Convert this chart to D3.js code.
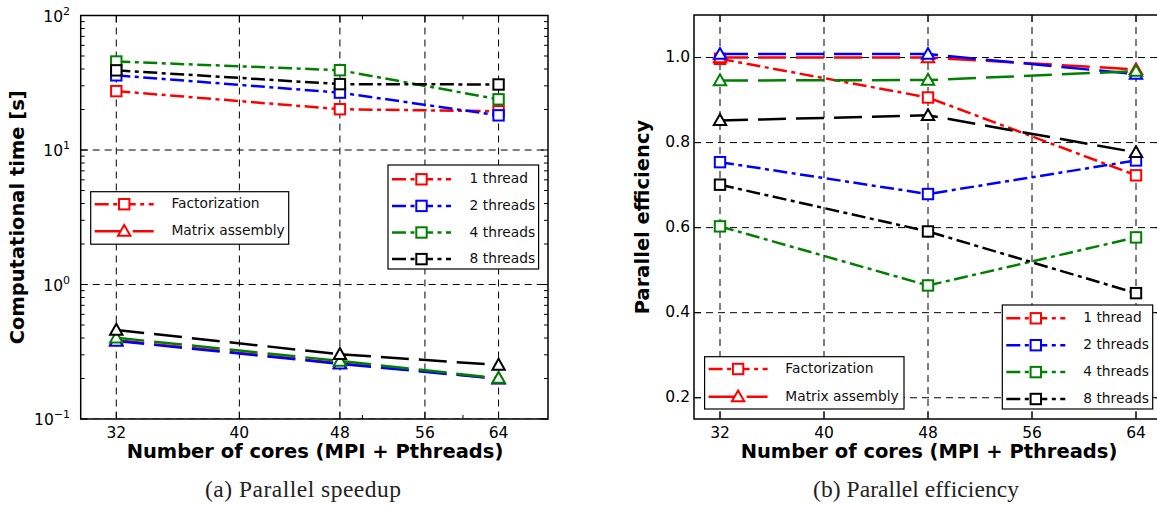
<!DOCTYPE html>
<html>
<head>
  <meta charset="utf-8">
  <title>Parallel speedup / efficiency</title>
  <style>
    body { margin: 0; background: #fff; }
    svg { display: block; }
    .grid { stroke: #000; stroke-width: 1; stroke-dasharray: 7,5; fill: none; }
    .tick { stroke: #000; stroke-width: 1; }
    .frame { fill: none; stroke: #000; stroke-width: 1.5; }
    .ticklabel { font-family: "DejaVu Sans", sans-serif; font-size: 15.5px; fill: #000; }
    .axtitle { font-family: "DejaVu Sans", sans-serif; font-size: 19.5px; font-weight: bold; fill: #000; }
    .legtext { font-family: "DejaVu Sans", sans-serif; font-size: 13.8px; fill: #111; }
    .caption { font-family: "Liberation Serif", serif; font-size: 23.5px; fill: #222; }
    .legbox { fill: #fff; stroke: #000; stroke-width: 1.2; }
  </style>
</head>
<body>
  <svg id="chart"></svg>

  <script src="https://d3js.org/d3.v7.min.js"></script>
  <script>
    // data
    const cores = [32, 48, 64];
    const threadLabels = ["1 thread", "2 threads", "4 threads", "8 threads"];
    const kindLabels = ["Factorization", "Matrix assembly"];
    const xTickValues = [32, 40, 48, 56, 64];

    // (a) computational time [s]
    const timeFactorization = [
      [27.4, 20.1, 19.4],
      [35.9, 26.7, 18.1],
      [45.5, 39.2, 23.8],
      [39.1, 30.9, 30.7]
    ];
    const timeAssembly = [
      [0.385, 0.260, 0.200],
      [0.380, 0.257, 0.199],
      [0.402, 0.270, 0.201],
      [0.459, 0.303, 0.252]
    ];
    const timeTickExponents = [-1, 0, 1, 2];

    // (b) parallel efficiency
    const effFactorization = [
      [0.997, 0.906, 0.723],
      [0.754, 0.679, 0.758],
      [0.603, 0.464, 0.577],
      [0.701, 0.591, 0.446]
    ];
    const effAssembly = [
      [1.000, 1.000, 0.972],
      [1.008, 1.008, 0.961],
      [0.946, 0.947, 0.968],
      [0.852, 0.864, 0.777]
    ];
    const effTicks = [0.2, 0.4, 0.6, 0.8, 1.0];

    const colors = ["#ff0000", "#0000ff", "#008000", "#000000"];
    const dashDot = "14,4.5,4,4.5";
    const dashed = "28,10";

    const svg = d3.select("#chart").attr("width", 1157).attr("height", 505);
    svg.append("rect").attr("width", 1157).attr("height", 505).attr("fill", "#fff");

    function marker(g, kind, cx, cy, color) {
      if (kind === 0) {
        g.append("rect")
          .attr("x", cx - 5.2).attr("y", cy - 5.2)
          .attr("width", 10.4).attr("height", 10.4)
          .attr("fill", "#fff").attr("stroke", color).attr("stroke-width", 2);
      } else {
        const s = 6.2;
        g.append("path")
          .attr("d", `M${cx},${cy - s} L${cx + s},${cy + s * 0.75} L${cx - s},${cy + s * 0.75} Z`)
          .attr("fill", "#fff").attr("stroke", color).attr("stroke-width", 2)
          .attr("stroke-linejoin", "miter");
      }
    }

    function drawPanel(o) {
      const g = svg.append("g");
      const x = o.x, y = o.y;
      const [xl, xr] = x.range();
      const [yb, yt] = y.range();

      const clipId = "clip" + o.id;
      svg.append("clipPath").attr("id", clipId)
        .append("rect").attr("x", xl).attr("y", yt).attr("width", xr - xl).attr("height", yb - yt);
      const inner = g.append("g").attr("clip-path", `url(#${clipId})`);

      // grid
      xTickValues.forEach(v => {
        inner.append("line").attr("class", "grid")
          .attr("x1", x(v)).attr("x2", x(v)).attr("y1", yt).attr("y2", yb);
      });
      o.yTicks.forEach(v => {
        inner.append("line").attr("class", "grid")
          .attr("x1", xl).attr("x2", xr).attr("y1", y(v)).attr("y2", y(v));
      });

      // series: factorization (dash-dot, squares) then assembly (dashed, triangles)
      const line = d3.line().x((d, i) => x(cores[i])).y(d => y(d));
      [o.fact, o.asm].forEach((set, k) => {
        set.forEach((vals, i) => {
          inner.append("path")
            .attr("d", line(vals))
            .attr("fill", "none")
            .attr("stroke", colors[i])
            .attr("stroke-width", 2.5)
            .attr("stroke-dasharray", k === 0 ? dashDot : dashed);
          vals.forEach((v, j) => marker(inner, k, x(cores[j]), y(v), colors[i]));
        });
      });

      // ticks, pointing inward on all sides
      const maj = 7, mnr = 4;
      xTickValues.forEach(v => {
        g.append("line").attr("class", "tick").attr("x1", x(v)).attr("x2", x(v)).attr("y1", yb).attr("y2", yb - maj);
        g.append("line").attr("class", "tick").attr("x1", x(v)).attr("x2", x(v)).attr("y1", yt).attr("y2", yt + maj);
        g.append("text").attr("class", "ticklabel")
          .attr("x", x(v)).attr("y", 438).attr("text-anchor", "middle").text(v);
      });
      (o.xMinor || []).forEach(v => {
        g.append("line").attr("class", "tick").attr("x1", x(v)).attr("x2", x(v)).attr("y1", yb).attr("y2", yb - mnr);
        g.append("line").attr("class", "tick").attr("x1", x(v)).attr("x2", x(v)).attr("y1", yt).attr("y2", yt + mnr);
      });
      o.yTicks.forEach(v => {
        g.append("line").attr("class", "tick").attr("x1", xl).attr("x2", xl + maj).attr("y1", y(v)).attr("y2", y(v));
        g.append("line").attr("class", "tick").attr("x1", xr).attr("x2", xr - maj).attr("y1", y(v)).attr("y2", y(v));
      });
      (o.yMinor || []).forEach(v => {
        g.append("line").attr("class", "tick").attr("x1", xl).attr("x2", xl + mnr).attr("y1", y(v)).attr("y2", y(v));
        g.append("line").attr("class", "tick").attr("x1", xr).attr("x2", xr - mnr).attr("y1", y(v)).attr("y2", y(v));
      });
      o.yLabel(g);

      g.append("rect").attr("class", "frame")
        .attr("x", xl).attr("y", yt).attr("width", xr - xl).attr("height", yb - yt);

      // axis titles
      g.append("text").attr("class", "axtitle")
        .attr("x", o.xTitleX).attr("y", 458).attr("text-anchor", "middle")
        .text("Number of cores (MPI + Pthreads)");
      g.append("text").attr("class", "axtitle")
        .attr("transform", `translate(${o.yTitleX},${(yt + yb) / 2}) rotate(-90)`)
        .attr("text-anchor", "middle").attr("dominant-baseline", "middle")
        .text(o.yTitle);

      // legends
      function legend(box, labels, rowStyle) {
        const lg = g.append("g");
        lg.append("rect").attr("class", "legbox")
          .attr("x", box.x).attr("y", box.y).attr("width", box.w).attr("height", box.h);
        labels.forEach((lab, i) => {
          const ry = box.y + box.first + i * box.step;
          const st = rowStyle(i);
          lg.append("line")
            .attr("x1", box.x + 4).attr("x2", box.x + 63).attr("y1", ry).attr("y2", ry)
            .attr("stroke", st.color).attr("stroke-width", 2.5).attr("stroke-dasharray", st.dash);
          marker(lg, st.kind, box.x + 33.5, ry, st.color);
          lg.append("text").attr("class", "legtext")
            .attr("x", box.x + box.tx).attr("y", ry).attr("dominant-baseline", "middle")
            .text(lab);
        });
      }
      legend(o.kindBox, kindLabels, i => ({ color: colors[0], dash: i === 0 ? dashDot : dashed, kind: i }));
      legend(o.threadBox, threadLabels, i => ({ color: colors[i], dash: dashDot, kind: 0 }));

      svg.append("text").attr("class", "caption")
        .attr("x", o.captionX).attr("y", 497).attr("text-anchor", "middle")
        .attr("textLength", o.captionW).attr("lengthAdjust", "spacing")
        .text(o.caption);
    }

    // (a) log-log
    const xa = d3.scaleLog().domain([30, 70]).range([80.7, 548]);
    const ya = d3.scaleLog().domain([0.1, 100]).range([419, 15.5]);
    const timeTicks = timeTickExponents.map(e => Math.pow(10, e));
    const timeMinor = [];
    timeTickExponents.slice(0, -1).forEach(e => {
      for (let m = 2; m <= 9; m++) timeMinor.push(m * Math.pow(10, e));
    });

    drawPanel({
      id: "a", x: xa, y: ya,
      fact: timeFactorization, asm: timeAssembly,
      yTicks: timeTicks, yMinor: timeMinor, xMinor: [50, 60],
      yLabel: g => {
        timeTickExponents.forEach(e => {
          const t = g.append("text").attr("class", "ticklabel")
            .attr("x", 70).attr("y", ya(Math.pow(10, e)) + 6).attr("text-anchor", "end");
          t.append("tspan").text("10");
          t.append("tspan").attr("dy", -7).attr("font-size", "11px").text(String(e).replace("-", "\u2212"));
        });
      },
      yTitle: "Computational time [s]", yTitleX: 18, xTitleX: 315,
      kindBox: { x: 90.7, y: 191.7, w: 198, h: 52.5, first: 12.5, step: 27, tx: 80.7 },
      threadBox: { x: 388, y: 165, w: 150.6, h: 104, first: 14.3, step: 26.6, tx: 81.6 },
      caption: "(a) Parallel speedup", captionX: 303, captionW: 196
    });

    // (b) linear
    const xb = d3.scaleLinear().domain([30, 66]).range([694, 1162]);
    const yb = d3.scaleLinear().domain([0.15, 1.1]).range([419, 15]);

    drawPanel({
      id: "b", x: xb, y: yb,
      fact: effFactorization, asm: effAssembly,
      yTicks: effTicks,
      yLabel: g => {
        effTicks.forEach(v => {
          g.append("text").attr("class", "ticklabel")
            .attr("x", 690).attr("y", yb(v)).attr("text-anchor", "end")
            .attr("dominant-baseline", "middle").text(d3.format(".1f")(v));
        });
      },
      yTitle: "Parallel efficiency", yTitleX: 643, xTitleX: 929,
      kindBox: { x: 704.6, y: 356.7, w: 199.4, h: 52.3, first: 12.3, step: 27.7, tx: 80.7 },
      threadBox: { x: 1002.3, y: 305, w: 150.4, h: 104, first: 13.3, step: 26.9, tx: 81 },
      caption: "(b) Parallel efficiency", captionX: 916, captionW: 206
    });
  </script>
</body>
</html>
